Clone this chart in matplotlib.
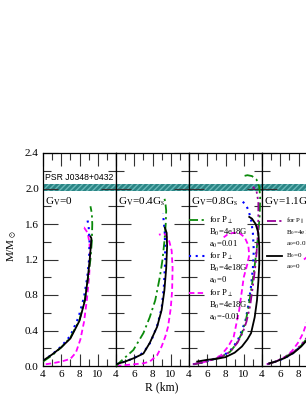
import numpy as np
import matplotlib.pyplot as plt
from matplotlib.ticker import MultipleLocator

plt.rcParams['font.family'] = ['Liberation Serif', 'DejaVu Serif']
plt.rcParams['mathtext.fontset'] = 'stix'

# panel titles
panel_labels = [r'G$_{\mathrm{V}}$=0', r'G$_{\mathrm{V}}$=0.4G$_{\mathrm{s}}$',
                r'G$_{\mathrm{V}}$=0.8G$_{\mathrm{s}}$', r'G$_{\mathrm{V}}$=1.1G$_{\mathrm{s}}$']

# PSR J0348+0432 mass band
psr_lo, psr_hi = 1.97, 2.05

# mass-radius curves per panel: (R list, M list)
# panel 1, G_V = 0
p1_black_R = [4.0, 5.0, 6.0, 7.0, 8.0, 8.6, 8.9, 9.1, 9.25, 9.3, 9.2]
p1_black_M = [0.06, 0.13, 0.21, 0.31, 0.51, 0.74, 0.98, 1.18, 1.36, 1.44, 1.46]
p1_green_R = [4.0, 5.0, 6.0, 7.0, 8.0, 8.6, 8.95, 9.2, 9.35, 9.4, 9.35, 9.2]
p1_green_M = [0.05, 0.12, 0.21, 0.32, 0.52, 0.76, 1.0, 1.2, 1.4, 1.6, 1.72, 1.8]
p1_blue_R = [4.0, 5.0, 6.0, 7.0, 7.9, 8.5, 8.85, 9.05, 9.1, 9.0, 8.8]
p1_blue_M = [0.06, 0.13, 0.22, 0.34, 0.55, 0.78, 1.0, 1.2, 1.4, 1.58, 1.68]
p1_mag_R = [4.3, 5.0, 6.0, 7.0, 7.6, 8.1, 8.5, 8.8, 9.05, 9.15, 9.1, 8.9, 8.5, 8.2]
p1_mag_M = [0.02, 0.03, 0.05, 0.08, 0.15, 0.3, 0.5, 0.74, 1.0, 1.2, 1.38, 1.5, 1.56, 1.55]

# panel 2, G_V = 0.4 G_s
p2_black_R = [4.0, 5.0, 6.0, 7.0, 7.7, 8.5, 9.0, 9.3, 9.5, 9.6, 9.55, 9.35]
p2_black_M = [0.02, 0.05, 0.09, 0.14, 0.26, 0.44, 0.63, 0.85, 1.1, 1.35, 1.5, 1.56]
p2_green_R = [4.0, 4.5, 5.9, 7.0, 7.7, 8.3, 8.8, 9.1, 9.3, 9.45, 9.5, 9.4, 9.3]
p2_green_M = [0.0, 0.05, 0.18, 0.37, 0.55, 0.74, 1.0, 1.2, 1.4, 1.6, 1.75, 1.85, 1.89]
p2_blue_R = [4.0, 5.0, 6.0, 7.0, 7.8, 8.5, 9.0, 9.25, 9.4, 9.35, 9.15]
p2_blue_M = [0.02, 0.05, 0.09, 0.15, 0.27, 0.45, 0.65, 0.9, 1.2, 1.5, 1.72]
p2_mag_R = [4.0, 5.0, 6.0, 7.0, 7.7, 8.5, 9.0, 9.4, 9.7, 10.0, 10.15, 10.2, 10.1, 9.8, 9.3, 8.7]
p2_mag_M = [0.0, 0.01, 0.02, 0.03, 0.05, 0.12, 0.22, 0.33, 0.44, 0.65, 0.85, 1.1, 1.3, 1.42, 1.49, 1.48]

# panel 3, G_V = 0.8 G_s
p3_black_R = [4.9, 6.0, 7.0, 8.0, 9.0, 9.8, 10.4, 10.8, 11.2, 11.45, 11.6, 11.7, 11.7, 11.6, 11.3, 10.9, 10.6]
p3_black_M = [0.05, 0.07, 0.08, 0.1, 0.15, 0.22, 0.3, 0.37, 0.55, 0.74, 0.95, 1.15, 1.35, 1.5, 1.6, 1.66, 1.68]
p3_green_R = [4.5, 5.5, 6.5, 7.5, 8.5, 9.2, 9.8, 10.2, 10.5, 10.8, 11.1, 11.4, 11.6, 11.75, 11.8, 11.7, 11.4, 10.9, 10.4, 10.0]
p3_green_M = [0.02, 0.04, 0.07, 0.1, 0.16, 0.25, 0.37, 0.5, 0.65, 0.85, 1.05, 1.3, 1.5, 1.7, 1.9, 2.02, 2.1, 2.14, 2.15, 2.14]
p3_blue_R = [4.5, 5.5, 6.5, 7.5, 8.5, 9.3, 9.8, 10.2, 10.5, 10.8, 11.0, 11.1, 11.0, 10.8, 10.5, 10.2, 9.8]
p3_blue_M = [0.02, 0.04, 0.07, 0.1, 0.17, 0.28, 0.4, 0.52, 0.68, 0.9, 1.1, 1.3, 1.5, 1.65, 1.76, 1.82, 1.86]
p3_mag_R = [4.4, 5.5, 6.5, 7.5, 8.3, 8.9, 9.5, 10.0, 10.4, 10.6, 10.5, 10.1, 9.5, 8.8, 8.2, 7.8]
p3_mag_M = [0.02, 0.04, 0.07, 0.12, 0.22, 0.33, 0.63, 1.0, 1.15, 1.25, 1.36, 1.45, 1.5, 1.5, 1.48, 1.45]
p3_purp_R = [4.5, 5.5, 6.5, 7.5, 8.5, 9.3, 9.9, 10.3, 10.7, 11.0, 11.3, 11.5, 11.6, 11.6, 11.4, 11.0]
p3_purp_M = [0.02, 0.04, 0.07, 0.1, 0.16, 0.26, 0.38, 0.5, 0.68, 0.9, 1.15, 1.4, 1.65, 1.85, 1.97, 2.02]

# panel 4, G_V = 1.1 G_s (cut by the figure edge)
p4_black_R = [4.8, 5.5, 6.5, 7.5, 8.3, 9.0, 9.6, 10.2]
p4_black_M = [0.03, 0.05, 0.09, 0.15, 0.22, 0.3, 0.4, 0.55]
p4_green_R = [4.6, 5.5, 6.5, 7.5, 8.3, 9.0, 9.6, 10.2]
p4_green_M = [0.02, 0.05, 0.1, 0.16, 0.23, 0.32, 0.43, 0.6]
p4_blue_R = [4.6, 5.5, 6.5, 7.5, 8.3, 9.0, 9.6, 10.2]
p4_blue_M = [0.02, 0.05, 0.09, 0.15, 0.23, 0.31, 0.42, 0.58]
p4_purp_R = [4.6, 5.5, 6.5, 7.5, 8.3, 9.0, 9.6, 10.2]
p4_purp_M = [0.02, 0.05, 0.1, 0.16, 0.24, 0.33, 0.44, 0.6]
p4_mag_R = [4.5, 5.5, 6.5, 7.3, 8.0, 8.5, 9.0, 9.5, 10.0, 10.3, 10.2, 9.7, 9.2, 8.6]
p4_mag_M = [0.02, 0.05, 0.1, 0.17, 0.27, 0.37, 0.52, 0.7, 0.9, 1.1, 1.2, 1.25, 1.25, 1.2]

GREEN = '#0a8a0a'
BLUE = '#0000ff'
MAG = '#ff00ff'
PURP = '#990099'

sty = {
    'black': dict(color='black', lw=1.3, ls='-'),
    'green': dict(color=GREEN, lw=1.3, ls=(0, (5, 2, 1.2, 2))),
    'blue': dict(color=BLUE, lw=1.5, ls=(0, (1, 2.2))),
    'mag': dict(color=MAG, lw=1.3, ls=(0, (3, 1.8))),
    'purp': dict(color=PURP, lw=1.3, ls=(0, (5, 1.8, 1.2, 1.8, 1.2, 1.8))),
}

panels = [
    [('mag', p1_mag_R, p1_mag_M), ('blue', p1_blue_R, p1_blue_M),
     ('green', p1_green_R, p1_green_M), ('black', p1_black_R, p1_black_M)],
    [('mag', p2_mag_R, p2_mag_M), ('blue', p2_blue_R, p2_blue_M),
     ('green', p2_green_R, p2_green_M), ('black', p2_black_R, p2_black_M)],
    [('mag', p3_mag_R, p3_mag_M), ('blue', p3_blue_R, p3_blue_M),
     ('green', p3_green_R, p3_green_M), ('purp', p3_purp_R, p3_purp_M),
     ('black', p3_black_R, p3_black_M)],
    [('mag', p4_mag_R, p4_mag_M), ('blue', p4_blue_R, p4_blue_M),
     ('green', p4_green_R, p4_green_M), ('purp', p4_purp_R, p4_purp_M),
     ('black', p4_black_R, p4_black_M)],
]

W, H = 306, 396
fig = plt.figure(figsize=(W / 100, H / 100), dpi=100)

x0, pw = 43, 73
y_top, y_bot = 153, 366
axes = []
for i in range(4):
    ax = fig.add_axes([(x0 + pw * i) / W, (H - y_bot) / H, pw / W, (y_bot - y_top) / H])
    axes.append(ax)
    ax.set_xlim(4, 12)
    ax.set_ylim(0, 2.4)
    ax.axhspan(psr_lo, psr_hi, facecolor='#2a8585', edgecolor='#6ab8b8',
               hatch='//////', lw=0, zorder=1)
    for key, R, M in panels[i]:
        ax.plot(R, M, zorder=3, **sty[key])
    ax.xaxis.set_major_locator(MultipleLocator(2))
    ax.xaxis.set_minor_locator(MultipleLocator(1))
    ax.yaxis.set_major_locator(MultipleLocator(0.4))
    ax.yaxis.set_minor_locator(MultipleLocator(0.2))
    ax.tick_params(which='both', direction='in', top=True, right=True,
                   labelsize=8, pad=3, width=0.8, color='#333333')
    ax.tick_params(which='major', length=11)
    ax.tick_params(which='minor', length=6)
    ax.tick_params(axis='x', which='major', length=9)
    ax.tick_params(axis='x', which='minor', length=5)
    ax.set_xticks([4, 6, 8, 10])
    ax.set_xticklabels(['4', '6', '8', '10'])
    ax.set_yticks(np.arange(0, 2.41, 0.4))
    if i == 0:
        ax.set_yticklabels(['%.1f' % v for v in np.arange(0, 2.41, 0.4)])
    else:
        ax.set_yticklabels([])
    for s in ax.spines.values():
        s.set_linewidth(0.9)
    ax.text(4.25, 1.85, panel_labels[i], fontsize=8, va='center', ha='left')

axes[0].text(4.25, 2.12, 'PSR J0348+0432', family=['Liberation Sans', 'DejaVu Sans'],
             fontsize=6.2, va='center', ha='left')

# legend in panel 3
ax3 = axes[2]
leg3 = [('green', ['for P$_\\perp$', 'B$_0$=4e18G', 'a$_0$=0.01']),
        ('blue', ['for P$_\\perp$', 'B$_0$=4e18G', 'a$_0$=0']),
        ('mag', ['for P$_\\perp$', 'B$_0$=4e18G', 'a$_0$=-0.01'])]
yy = 1.645
for key, lines in leg3:
    ax3.plot([4.05, 5.7], [yy, yy], zorder=4, **sty[key])
    for t in lines:
        ax3.text(6.2, yy, t, fontsize=6.2, va='center', ha='left', zorder=5)
        yy -= 0.137

# legend in panel 4
ax4 = axes[3]
leg4 = [('purp', ['for P$_\\parallel$', 'B$_0$=4e18G', 'a$_0$=0.01']),
        ('black', ['B$_0$=0', 'a$_0$=0'])]
yy = 1.635
for key, lines in leg4:
    ax4.plot([4.5, 6.2], [yy, yy], zorder=4, **sty[key])
    for t in lines:
        ax4.text(6.6, yy, t, fontsize=5, va='center', ha='left', zorder=5)
        yy -= 0.13

fig.text(12 / W, 1 - 246 / H, r'M/M$_\odot$', rotation=90, fontsize=8,
         va='center', ha='center')
fig.text(162 / W, 1 - 387 / H, 'R (km)', fontsize=8.5, va='center', ha='center')

fig.savefig('out.png', dpi=100)
